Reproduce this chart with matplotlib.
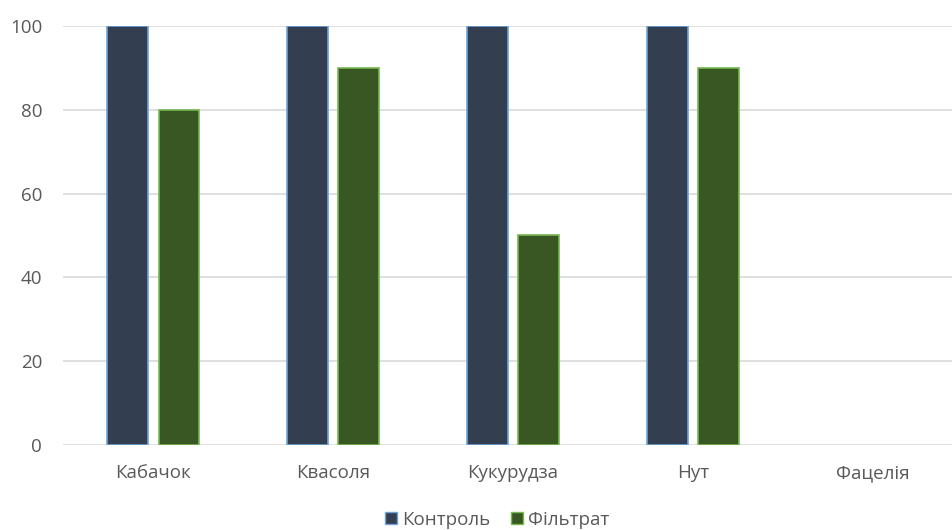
import numpy as np
import matplotlib
matplotlib.use("Agg")
import matplotlib.pyplot as plt
from matplotlib.lines import Line2D

plt.rcParams['font.family'] = ['Open Sans', 'DejaVu Sans']

categories = ['Кабачок', 'Квасоля', 'Кукурудза', 'Нут', 'Фацелія']
control = [100, 100, 100, 100, 0]
filtrat = [80, 90, 50, 90, 0]
series_names = ['Контроль', 'Фільтрат']

fig = plt.figure(figsize=(9.53, 5.3), dpi=100)
ax = fig.add_axes([0.0661, 0.1604, 0.944, 0.7906])

x = np.arange(len(categories))
w = 0.226
# zero values are not drawn in the original
c_h = np.where(np.array(control) == 0, np.nan, control)
f_h = np.where(np.array(filtrat) == 0, np.nan, filtrat)
ax.bar(x - 0.142, c_h, w, color='#333f50', edgecolor='#6fa3d8', linewidth=1.2, zorder=3)
ax.bar(x + 0.144, f_h, w, color='#385723', edgecolor='#76b852', linewidth=1.2, zorder=3)

ax.set_xlim(-0.5, len(categories) - 0.5)
ax.set_ylim(0, 100)
ax.set_yticks(range(0, 101, 20))
ax.grid(axis='y', color='#d9d9d9', linewidth=1.2, zorder=0)
ax.set_xticks(x)
ax.set_xticklabels(categories)
ax.tick_params(length=0, labelsize=13.5, colors='#595959', pad=14)
ax.tick_params(axis='y', pad=15)
for s in ax.spines.values():
    s.set_visible(False)

handles = [Line2D([], [], marker='s', linestyle='none', markersize=9,
                  markerfacecolor='#333f50', markeredgecolor='#6fa3d8'),
           Line2D([], [], marker='s', linestyle='none', markersize=9,
                  markerfacecolor='#385723', markeredgecolor='#76b852')]
fig.legend(handles, series_names, loc='center', bbox_to_anchor=(0.521, 0.019),
           ncol=2, frameon=False, fontsize=13.5, labelcolor='#595959',
           handletextpad=0.2, columnspacing=1.0, handlelength=0.8,
           borderpad=0)

fig.savefig('out.png', dpi=100)
